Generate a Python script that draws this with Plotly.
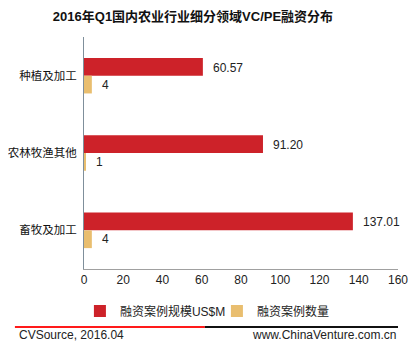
import plotly.graph_objects as go

categories = ["种植及加工", "农林牧渔其他", "畜牧及加工"]
amount = [60.57, 91.20, 137.01]
count = [4, 1, 4]
series_names = ["融资案例规模US$M", "融资案例数量"]
x_ticks = [0, 20, 40, 60, 80, 100, 120, 140, 160]

RED = "#CD2229"
YEL = "#E9BE6F"
FONT = "Liberation Sans, Arial, Noto Sans CJK SC, sans-serif"

fig = go.Figure()
fig.add_trace(go.Bar(y=categories, x=amount, orientation="h", name=series_names[0],
                     marker=dict(color=RED, line=dict(width=0))))
fig.add_trace(go.Bar(y=categories, x=count, orientation="h", name=series_names[1],
                     marker=dict(color=YEL, line=dict(width=0))))

ann = []
for c, v in zip(categories, amount):
    ann.append(dict(x=v, y=c, xref="x", yref="y", text=f"{v:.2f}", showarrow=False,
                    xanchor="left", xshift=8, yshift=8, font=dict(size=12, color="#222")))
for c, v in zip(categories, count):
    ann.append(dict(x=v, y=c, xref="x", yref="y", text=f"{v}", showarrow=False,
                    xanchor="left", xshift=8, yshift=-9, font=dict(size=12, color="#222")))

ann.append(dict(x=-0.213, y=-0.284, xref="paper", yref="paper", text="CVSource, 2016.04",
                showarrow=False, xanchor="left", yanchor="middle", font=dict(size=12, color="#222")))
ann.append(dict(x=1.0, y=-0.284, xref="paper", yref="paper", text="www.ChinaVenture.com.cn",
                showarrow=False, xanchor="right", yanchor="middle", font=dict(size=12, color="#222")))

shapes = [
    dict(type="line", xref="paper", yref="paper", x0=-0.22, x1=0.385, y0=-0.25, y1=-0.25,
         line=dict(color="#FF1A1A", width=2)),
    dict(type="line", xref="paper", yref="paper", x0=0.385, x1=1.0, y0=-0.25, y1=-0.25,
         line=dict(color="#111111", width=2)),
]

# the page body has an 8px margin, so the figure is made 8px smaller on left/top
fig.update_layout(
    width=412, height=347,
    margin=dict(l=76, r=22, t=29, b=86, autoexpand=False),
    paper_bgcolor="white", plot_bgcolor="white",
    font=dict(family=FONT, size=12, color="#222"),
    title=dict(text="<b>2016年Q1国内农业行业细分领域VC/PE融资分布</b>", x=0.449, xanchor="center",
               y=0.975, yanchor="middle", font=dict(size=13, color="#111")),
    barmode="group", bargap=0.54, bargroupgap=0,
    showlegend=True,
    legend=dict(orientation="h", x=-0.013, xanchor="left", y=-0.181, yanchor="middle",
                font=dict(size=12), itemwidth=30, entrywidth=92, entrywidthmode="pixels",
                tracegroupgap=0, bgcolor="rgba(0,0,0,0)"),
    annotations=ann, shapes=shapes,
)
fig.update_xaxes(range=[0, 160], tickvals=x_ticks, showgrid=False, zeroline=False,
                 showline=True, linecolor="#A0A0A0", linewidth=1, ticks="",
                 tickfont=dict(size=12), automargin=False, fixedrange=True)
fig.update_yaxes(autorange="reversed", showgrid=False, zeroline=False, showline=True,
                 linecolor="#7F8F9B", linewidth=1, ticks="", ticklabelstandoff=4,
                 automargin=False, tickfont=dict(size=11.5, color="#111"))

fig.write_html("out.html")
